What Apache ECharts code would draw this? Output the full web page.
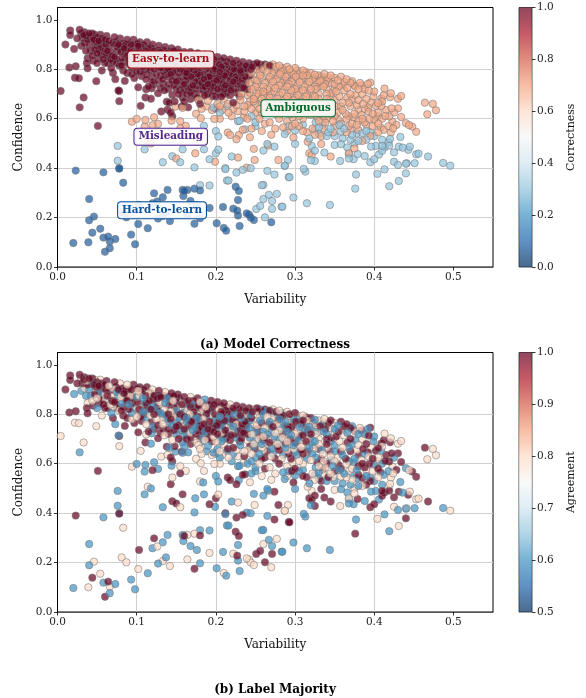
<!DOCTYPE html>
<html><head><meta charset="utf-8">
<style>html,body{margin:0;padding:0;background:#fff}#c{width:586px;height:698px}</style>
<script src="https://cdn.jsdelivr.net/npm/echarts@6/dist/echarts.min.js"></script>
</head><body><div id="c"></div>
<script>
// [variability, confidence, agreement]; each array holds one correctness level
const hardPts=[[.023,.39,1],[.058,.383,.6],[.078,.398,1],[.078,.4,.6],[.083,.341,.8],[.04,.275,.6],[.046,.204,.8],[.04,.189,.6],[.044,.139,1],[.054,.155,.8],[.02,.097,.6],[.039,.1,.8],[.058,.119,.6],[.064,.123,1],[.066,.103,.8],[.073,.113,.6],[.066,.076,.6],[.06,.062,1],[.093,.131,.6],[.098,.092,.6],[.102,.174,.8],[.114,.157,.6],[.081,.221,.8],[.087,.201,.8],[.122,.298,1],[.12,.258,.6],[.126,.265,.8],[.103,.251,1],[.133,.282,.6],[.139,.312,.6],[.137,.221,.6],[.133,.206,.8],[.127,.196,.6],[.142,.186,.8],[.158,.312,.6],[.16,.308,1],[.164,.312,.8],[.173,.317,.8],[.18,.31,1],[.159,.287,.6],[.168,.267,.6],[.176,.251,.6],[.164,.213,.8],[.18,.197,.6],[.173,.175,1],[.192,.239,.8],[.209,.243,.6],[.201,.177,.6],[.21,.158,.8],[.213,.147,.6],[.222,.236,.8],[.227,.228,1],[.228,.208,.6],[.23,.166,.6],[.228,.271,.6],[.225,.325,1],[.229,.308,1],[.239,.217,.8],[.242,.212,.8],[.244,.2,.8],[.248,.19,.8],[.27,.181,.8]];
const unclearPts=[[.076,.49,.6],[.076,.43,.6],[.11,.476,.6],[.133,.424,.6],[.145,.448,1],[.155,.424,.8],[.158,.476,1],[.173,.403,.6],[.185,.476,.6],[.185,.571,.8],[.184,.524,.6],[.192,.436,1],[.2,.46,1],[.203,.475,.8],[.203,.528,.6],[.2,.55,.6],[.212,.4,1],[.212,.396,.6],[.22,.447,.6],[.216,.35,.6],[.214,.35,.6],[.18,.331,.6],[.192,.33,.6],[.226,.382,1],[.234,.393,1],[.244,.4,.6],[.237,.557,1],[.228,.59,.6],[.23,.592,.6],[.245,.61,.6],[.25,.585,.6],[.25,.57,.6],[.197,.645,.6],[.205,.625,.6],[.214,.65,.6],[.26,.471,.6],[.265,.498,.6],[.265,.389,.6],[.258,.331,.6],[.26,.332,.6],[.267,.292,.6],[.271,.267,.6],[.26,.275,.8],[.251,.235,1],[.256,.247,1],[.262,.201,1],[.271,.235,1],[.284,.244,.6],[.298,.281,.6],[.277,.296,.8],[.274,.487,1],[.274,.374,1],[.287,.409,.8],[.291,.433,.8],[.293,.363,1],[.287,.538,.6],[.3,.498,.6],[.283,.244,.6],[.315,.258,.6],[.344,.251,.6],[.311,.397,.6],[.313,.386,.6],[.292,.364,1],[.287,.41,.8],[.357,.429,.8],[.325,.429,1],[.32,.432,.6],[.321,.49,.8],[.325,.471,1],[.337,.463,1],[.35,.494,.8],[.358,.497,.6],[.366,.484,.6],[.368,.457,.6],[.368,.439,.6],[.374,.436,.6],[.379,.457,1],[.388,.449,.6],[.395,.424,1],[.4,.436,1],[.406,.455,.6],[.396,.487,.6],[.41,.47,1],[.413,.484,1],[.419,.491,1],[.425,.464,1],[.431,.487,1],[.433,.526,.6],[.436,.483,.6],[.443,.474,1],[.445,.487,.8],[.441,.42,.8],[.44,.418,.6],[.43,.413,.6],[.425,.426,.8],[.44,.379,1],[.431,.348,.8],[.419,.327,.6],[.413,.395,.6],[.404,.377,.8],[.377,.374,.6],[.376,.317,1],[.451,.42,.6],[.453,.456,.8],[.456,.459,.8],[.468,.447,1],[.487,.421,.6],[.496,.41,.8],[.326,.585,.6],[.33,.565,.6],[.335,.575,1],[.31,.575,.6],[.318,.52,.6],[.3,.552,.6],[.292,.57,.6],[.345,.56,.8],[.35,.53,.6],[.356,.575,.6],[.362,.56,.6],[.358,.548,.8],[.372,.535,.8],[.378,.54,.6],[.385,.542,1],[.39,.55,.6],[.395,.545,.6],[.4,.53,.6],[.41,.515,.6],[.402,.49,.6],[.42,.518,.8],[.38,.51,.6],[.375,.5,.8],[.34,.53,.6],[.33,.54,.6],[.325,.555,.6],[.342,.545,1],[.36,.52,.6],[.39,.515,1],[.41,.49,1],[.418,.505,.8],[.37,.515,.6]];
const ambiguousPts=[[.094,.588,.8],[.1,.599,.6],[.111,.595,.6],[.122,.606,.6],[.11,.568,.6],[.12,.574,1],[.127,.579,.6],[.149,.649,.6],[.158,.644,.6],[.144,.592,.6],[.155,.59,.8],[.162,.571,.8],[.155,.561,1],[.145,.544,.8],[.143,.517,1],[.114,.507,.8],[.118,.5,.6],[.15,.439,1],[.174,.46,.6],[.181,.602,.8],[.18,.528,.8],[.198,.599,.8],[.205,.6,.8],[.215,.544,1],[.218,.534,1],[.229,.534,.6],[.226,.517,1],[.234,.555,1],[.243,.525,.8],[.199,.426,.6],[.228,.443,.8],[.248,.478,.6],[.249,.433,.8],[.239,.402,.6],[.266,.491,.6],[.279,.433,1],[.298,.524,1],[.478,.634,.8],[.474,.66,.8],[.467,.618,.8],[.464,.665,1],[.453,.547,1],[.448,.568,1],[.444,.574,.8],[.44,.582,.6],[.434,.607,1],[.434,.692,.8],[.43,.681,.8],[.421,.703,.8],[.413,.722,.8],[.42,.687,1],[.422,.642,1],[.43,.642,1],[.419,.609,1],[.414,.611,1],[.423,.588,.8],[.428,.575,1],[.424,.561,.8],[.421,.544,.8],[.395,.746,1],[.392,.741,.6],[.384,.735,1],[.393,.714,1],[.399,.69,.6],[.409,.682,1],[.405,.663,1],[.402,.652,1],[.392,.646,1],[.393,.629,.8],[.409,.652,.6],[.316,.507,.8],[.318,.46,1],[.321,.453,1],[.345,.447,1],[.333,.498,1],[.368,.46,.8],
[.178,.675,.8],[.183,.69,.6],[.19,.672,.6],[.175,.62,.8],[.195,.635,.8],[.202,.66,.6],[.21,.68,.8],[.208,.635,.8],[.216,.625,.8],[.222,.64,.6],[.226,.655,.8],[.231,.675,.6],[.236,.63,1],[.24,.655,.8],[.245,.64,.8],[.25,.66,1],[.22,.61,.6],[.235,.605,.8],[.24,.6,.6],[.255,.6,.8],[.262,.625,1],[.268,.585,.8],[.28,.6,1],[.272,.64,.6],[.283,.62,.8],[.29,.59,.8],[.297,.605,.8],[.285,.565,.6],[.275,.56,.8],[.31,.6,.8],[.305,.57,.6],[.315,.545,1],[.322,.56,.8],[.33,.59,.8],[.34,.6,1],[.35,.61,.8],[.355,.595,1],[.365,.6,.8],[.372,.58,.8],[.368,.61,.6],[.38,.59,1],[.385,.6,1],[.39,.575,.8],[.4,.595,.6],[.405,.58,1],[.41,.6,.6],[.375,.62,.6],[.38,.635,1],[.37,.65,1],[.36,.635,.6],[.35,.65,.6],[.345,.63,.8],[.36,.665,.8],[.372,.68,.6],[.38,.675,.8],[.37,.7,1],[.362,.715,.8],[.352,.71,1],[.345,.69,.6],[.34,.665,.8],[.335,.64,.8],[.33,.66,1],[.325,.69,.6],[.318,.665,.6],[.312,.635,.8],[.32,.72,1],[.33,.73,.8],[.34,.72,.6],[.35,.74,.6],[.36,.735,.8],[.37,.745,1],[.38,.72,.6],[.385,.7,.8],[.39,.68,1],[.365,.76,1],[.372,.752,.6],[.358,.77,1],[.35,.765,.8],[.34,.755,.8],[.337,.781,.8],[.33,.775,.8],[.32,.785,1],[.31,.795,.8],[.3,.805,1],[.29,.81,.8],[.28,.815,.8],[.272,.82,.8],[.265,.815,.6],[.258,.81,1],[.25,.8,.8],[.245,.785,1],[.24,.77,.6],[.255,.785,.8],[.265,.79,.8],[.275,.8,.6],[.285,.795,1],[.295,.79,.8],[.305,.78,.6],[.315,.775,.8],[.325,.765,1],[.335,.76,.6],[.345,.775,1],[.247,.76,.8],[.258,.765,1],[.268,.77,.6],[.278,.775,1],[.288,.77,.6],[.298,.765,.8],[.308,.76,1],[.318,.75,.6],[.328,.745,.8],[.338,.74,1],[.242,.745,.6],[.252,.74,1],[.262,.745,.8],[.272,.75,1],[.282,.745,.6],[.292,.74,1],[.302,.735,.8],[.312,.73,.6],[.245,.72,.8],[.255,.715,1],[.265,.72,.6],[.275,.725,.8],[.285,.72,1],[.295,.715,.6],[.305,.71,1],[.315,.7,.8],[.232,.7,1],[.24,.695,.8],[.25,.69,.6],[.26,.695,1],[.27,.7,.8],[.28,.695,.6],[.29,.69,.8],[.3,.685,1],[.31,.68,.8],[.322,.675,.6],[.248,.67,.6],[.258,.665,.8],[.268,.672,.8],[.278,.668,1],[.288,.665,.6],[.298,.66,.8],[.308,.655,1],[.255,.64,.6],[.265,.65,1],[.292,.64,1],[.302,.635,.6],[.275,.62,1],[.322,.64,.6],[.333,.62,1],[.298,.78,.6],[.282,.79,1],[.27,.805,1],[.26,.8,.6],[.31,.775,1],[.35,.72,.8],[.34,.7,1],[.33,.7,.8],[.325,.73,.6],[.26,.73,.6],[.29,.755,1],[.252,.755,.8],
[.276,.81,1],[.284,.805,.6],[.293,.8,1],[.303,.795,.8],[.314,.788,1],[.325,.778,.6],[.334,.77,.8],[.342,.765,1],[.354,.755,.6],[.362,.75,1],[.271,.785,.8],[.281,.78,.6],[.291,.778,.8],[.301,.77,1],[.312,.765,.6],[.322,.76,.8],[.332,.752,1],[.344,.745,.8],[.355,.73,1],[.366,.725,.6],[.376,.73,.8],[.388,.72,.6],[.256,.775,.6],[.267,.76,1],[.277,.76,.8],[.287,.755,.6],[.296,.75,1],[.306,.748,.6],[.316,.738,1],[.326,.72,.8],[.336,.73,.6],[.346,.705,1],[.356,.69,.8],[.366,.685,1],[.376,.695,.6],[.386,.66,1],[.396,.665,.8],[.25,.73,.6],[.26,.71,.8],[.27,.735,.6],[.28,.735,.8],[.29,.73,.6],[.3,.72,.8],[.31,.715,1],[.32,.705,.6],[.33,.68,.8],[.34,.68,1],[.35,.675,.6],[.358,.65,1],[.368,.665,.6],[.378,.655,.8],[.388,.64,.6],[.398,.62,1],[.243,.705,.6],[.254,.7,.8],[.264,.705,1],[.274,.71,.6],[.284,.705,.8],[.294,.7,1],[.304,.695,.6],[.314,.69,1],[.324,.66,.8],[.334,.655,.6],[.344,.65,1],[.354,.625,.8],[.364,.62,1],[.374,.605,.6],[.384,.615,.8],[.394,.6,1],[.404,.61,.8],[.248,.68,.8],[.258,.68,.6],[.268,.685,1],[.278,.68,.8],[.288,.68,1],[.298,.675,.6],[.308,.668,.8],[.316,.65,1],[.326,.625,.6],[.336,.61,.8],[.346,.615,.6],[.26,.655,.8],[.27,.66,.6],[.28,.655,1],[.29,.655,.8],[.3,.648,.6],[.31,.64,1],[.32,.615,.8],[.328,.605,1],[.338,.585,.8],[.348,.59,.6],[.358,.58,1],[.368,.57,.8],[.378,.575,.6],[.388,.585,1],[.398,.57,.8],[.408,.565,1],[.418,.57,.6],[.27,.63,.8],[.285,.635,.6],[.295,.62,1],[.305,.61,.8],[.315,.62,.6],[.258,.62,1],[.25,.625,.6],[.243,.67,1],[.236,.65,.8],[.228,.63,.8],[.215,.66,1],[.205,.65,.8],[.188,.65,.6],[.182,.64,.8],[.3,.58,1],[.29,.55,.8],[.31,.55,1],[.335,.56,.8],[.35,.57,1],[.365,.545,.8],[.38,.555,1],[.395,.53,1],[.405,.545,.8],[.412,.555,.6],[.385,.51,.8],[.375,.48,.8],[.37,.555,.6],[.348,.545,.8],[.333,.53,1],[.325,.535,.8],[.296,.57,1],[.27,.535,.8],[.258,.55,.8],[.245,.56,.6],[.262,.58,1],[.405,.625,.8],[.415,.635,1],[.425,.625,.6],[.41,.67,.8],[.4,.71,.6],[.412,.695,1],[.382,.745,.8],[.375,.735,1]];
const easyPts=[[.004,.712,.8],[.01,.9,1],[.016,.957,1],[.016,.939,1],[.015,.807,1],[.023,.812,1],[.021,.882,.6],[.022,.766,.8],[.027,.764,.8],[.033,.686,.8],[.028,.646,.6],[.049,.752,.8],[.051,.571,1],[.038,.804,1],[.056,.795,.8],[.073,.76,.6],[.078,.712,1],[.077,.714,.6],[.078,.671,.8],[.085,.753,1],[.068,.804,.6],[.105,.652,.8],[.102,.727,1],[.106,.773,1],[.112,.719,.8],[.119,.723,.6],[.111,.686,1],[.118,.681,.6],[.135,.715,.8],[.127,.703,1],[.138,.669,1],[.141,.665,.6],[.131,.629,.8],[.143,.625,1],[.145,.609,1],[.139,.636,.8],[.145,.696,.8],[.158,.686,.6],[.165,.646,.6],[.157,.649,1],[.163,.7,1],[.176,.685,.8],[.18,.66,.8],[.19,.7,1],[.2,.69,.8],[.2,.64,.6],[.21,.7,.6],[.222,.665,1],[.23,.69,1],[.24,.72,1],
[.028,.96,1],[.03,.945,.8],[.034,.95,1],[.025,.925,1],[.032,.925,1],[.036,.935,.8],[.03,.895,.6],[.038,.92,1],[.04,.945,1],[.042,.93,.8],[.044,.945,1],[.046,.92,1],[.04,.9,.6],[.036,.875,.6],[.038,.845,.8],[.042,.875,.6],[.044,.855,.8],[.037,.825,1],[.045,.835,1],[.05,.825,.6],[.048,.9,.8],[.05,.93,1],[.052,.915,1],[.054,.94,.8],[.056,.925,1],[.058,.905,.8],[.053,.885,.6],[.05,.865,.8],[.056,.86,1],[.06,.88,.8],[.058,.84,1],[.064,.825,1],[.062,.935,1],[.065,.915,.8],[.066,.895,1],[.068,.87,.8],[.064,.855,.6],[.07,.83,.8],[.072,.93,1],[.074,.91,1],[.075,.89,.6],[.072,.85,1],[.078,.815,.8],[.08,.87,.8],[.079,.925,.8],[.082,.905,1],[.084,.885,1],[.086,.86,1],[.083,.83,1],[.088,.92,.8],[.09,.9,1],[.092,.875,.8],[.09,.84,.6],[.088,.785,1],[.094,.805,.6],[.096,.92,1],[.098,.895,.8],[.1,.87,.6],[.097,.845,.8],[.1,.82,.8],[.1,.79,.8],[.104,.91,1],[.106,.89,1],[.108,.865,.6],[.105,.84,.8],[.108,.81,.6],[.113,.91,1],[.115,.885,.8],[.116,.855,1],[.114,.83,1],[.117,.795,.8],[.112,.76,.8],[.12,.9,.8],[.122,.875,1],[.124,.85,.6],[.123,.82,.6],[.125,.78,.8],[.122,.74,1],[.128,.895,1],[.13,.87,1],[.132,.84,.8],[.13,.805,.6],[.133,.76,.8],[.136,.89,.8],[.138,.865,.6],[.14,.835,1],[.138,.8,.6],[.14,.77,.6],[.141,.74,1],[.144,.885,1],[.146,.855,.8],[.148,.825,1],[.146,.79,.8],[.15,.75,1],[.15,.72,.6],[.152,.88,1],[.154,.855,.6],[.156,.83,.8],[.155,.8,1],[.158,.77,.8],[.157,.735,.6],[.16,.87,1],[.162,.845,1],[.164,.815,.8],[.163,.785,.6],[.166,.755,1],[.168,.725,.8],[.168,.87,.8],[.17,.84,.6],[.172,.81,1],[.171,.78,1],[.174,.75,.6],[.175,.72,1],[.177,.865,1],[.178,.835,1],[.18,.805,.8],[.18,.775,1],[.182,.745,1],[.184,.715,.6],[.186,.86,.6],[.187,.83,.8],[.188,.8,1],[.19,.77,.8],[.19,.74,1],[.194,.855,1],[.195,.825,1],[.196,.795,.8],[.198,.765,.6],[.197,.73,1],[.202,.85,1],[.204,.82,.8],[.205,.79,.6],[.206,.76,1],[.207,.725,.8],[.21,.845,1],[.212,.815,1],[.213,.785,.6],[.214,.755,.8],[.216,.725,.6],[.218,.84,.8],[.22,.81,1],[.22,.78,1],[.222,.75,.6],[.224,.72,1],[.226,.835,1],[.228,.805,.6],[.229,.775,.8],[.23,.745,1],[.234,.83,1],[.236,.8,.8],[.237,.77,1],[.238,.74,.6],[.242,.825,1],[.244,.8,.6],[.248,.82,.8],[.252,.825,1],[.256,.82,.6],[.262,.82,1],[.268,.815,1],
[.034,.905,.8],[.047,.94,.8],[.06,.92,1],[.076,.875,.6],[.086,.9,1],[.102,.895,.8],[.11,.845,.6],[.119,.835,.6],[.127,.875,.6],[.135,.82,.8],[.143,.81,.8],[.151,.845,1],[.159,.805,.6],[.167,.8,.8],[.175,.83,1],[.183,.82,.8],[.191,.785,.6],[.2,.81,.8],[.208,.8,1],[.217,.77,.6],[.225,.79,.8],[.233,.76,1],[.241,.79,.6],[.131,.775,.8],[.145,.755,.6],[.161,.755,.8],[.177,.78,.6],[.193,.75,.8],[.209,.77,.6],[.226,.76,.8],[.155,.715,.8],[.172,.7,.8],[.186,.73,.6],[.203,.745,.6],[.219,.735,.8],[.235,.725,1],[.213,.705,1],[.197,.71,.8],[.18,.7,1],[.165,.725,.6],
[.033,.94,1],[.039,.93,1],[.045,.925,.6],[.049,.91,1],[.055,.9,1],[.061,.9,1],[.063,.875,1],[.07,.905,.8],[.077,.9,1],[.081,.89,.6],[.087,.875,1],[.093,.9,1],[.095,.87,1],[.101,.905,1],[.103,.875,.8],[.109,.9,1],[.111,.875,1],[.118,.885,1],[.121,.86,1],[.126,.865,1],[.134,.875,1],[.141,.87,1],[.147,.875,1],[.153,.865,1],[.158,.85,.8],[.165,.855,1],[.172,.855,1],[.18,.85,.8],[.184,.845,1],[.191,.84,1],[.198,.84,1],[.206,.835,1],[.214,.83,1],[.222,.825,1],[.23,.82,1],[.238,.815,1],[.246,.81,1],[.254,.81,1],[.047,.88,1],[.054,.875,1],[.061,.86,.8],[.069,.855,1],[.074,.84,1],[.081,.845,.6],[.088,.855,1],[.094,.845,1],[.101,.85,1],[.107,.83,1],[.112,.845,1],[.118,.82,1],[.126,.83,1],[.129,.85,.8],[.136,.845,.6],[.142,.85,1],[.15,.815,.6],[.157,.84,1],[.161,.825,.6],[.168,.83,1],[.174,.82,.8],[.181,.825,1],[.189,.815,1],[.193,.815,.6],[.199,.8,1],[.207,.81,1],[.215,.805,1],[.223,.8,.6],[.231,.795,1],[.239,.805,1],[.243,.775,.6],[.052,.845,1],[.06,.825,1],[.067,.84,.8],[.075,.825,1],[.081,.815,1],[.09,.82,1],[.096,.825,.6],[.103,.82,1],[.11,.8,1],[.115,.81,.6],[.122,.8,1],[.128,.81,1],[.134,.795,.6],[.14,.8,1],[.148,.8,1],[.153,.785,.6],[.16,.79,1],[.166,.785,1],[.173,.795,.6],[.178,.79,1],[.184,.78,.8],[.192,.77,1],[.2,.78,.6],[.204,.77,1],[.211,.775,1],[.218,.79,.6],[.225,.77,1],[.232,.785,.6],[.238,.755,1],[.105,.79,1],[.112,.78,.6],[.119,.77,1],[.127,.755,1],[.134,.74,1],[.137,.78,.6],[.143,.78,1],[.149,.77,.6],[.153,.755,1],[.16,.74,1],[.163,.77,.6],[.169,.77,1],[.175,.765,.6],[.179,.755,1],[.185,.76,1],[.189,.755,.6],[.196,.745,1],[.201,.755,1],[.208,.745,.6],[.212,.735,1],[.219,.755,1],[.227,.74,.6],[.232,.725,1],[.14,.72,1],[.147,.735,1],[.153,.7,1],[.16,.715,.6],[.168,.705,1],[.171,.735,.6],[.177,.735,1],[.183,.73,1],[.189,.72,.6],[.193,.725,1],[.202,.72,1],[.205,.705,.6],[.211,.72,1],[.219,.715,1],[.226,.705,.6],[.148,.67,1],[.16,.67,.6],[.168,.68,1],[.186,.695,.8],[.195,.69,1],[.207,.69,.6],[.218,.695,1],[.13,.725,1],[.12,.75,.6],[.115,.73,1],[.097,.765,1],[.094,.78,.8],[.083,.795,1],[.07,.785,1]];
const xTicks=[0,.1,.2,.3,.4,.5];
const yTicks=[0,.2,.4,.6,.8,1];
const corrTicks=[0,.2,.4,.6,.8,1];
const agreeTicks=[.5,.6,.7,.8,.9,1];
const panelTitles=['(a) Model Correctness','(b) Label Majority'];
const barNames=['Correctness','Agreement'];
const regionLabels=[
 {name:'Easy-to-learn',value:[.143,.84],color:'#a50f15'},
 {name:'Ambiguous',value:[.304,.642],color:'#006d2c'},
 {name:'Misleading',value:[.143,.527],color:'#54278f'},
 {name:'Hard-to-learn',value:[.132,.23],color:'#08519c'}];
const rdbu=['#053061','#2166ac','#4393c3','#92c5de','#d1e5f0','#f7f7f7','#fddbc7','#f4a582','#d6604d','#b2182b','#67001f'];

const levels=[[hardPts,.08],[unclearPts,.3],[ambiguousPts,.7],[easyPts,1]];
let all=[];
levels.forEach(([arr,c])=>arr.forEach(p=>all.push([p[0],p[1],c,p[2]])));
// draw order only: mix the groups the way unsorted rows overlap
const ordered=all.map((p,i)=>[(i*37)%101,p]).sort((a,b)=>a[0]-b[0]).map(e=>e[1]);

const FONT='"DejaVu Serif"';
const L=57.5,W=435.5,H=259.5,T=[7.5,352.5],CL=519,CW=13;
const grids=[],xA=[],yA=[],series=[],vms=[];
function axisCommon(){return{
 axisLine:{show:true,onZero:false,lineStyle:{color:'#000',width:1}},
 axisTick:{show:true,length:3.5,lineStyle:{color:'#000',width:.8}},
 splitLine:{show:true,showMinLine:true,showMaxLine:false,lineStyle:{color:'#d0d0d0',width:1.1}},
 axisLabel:{show:true,fontFamily:FONT,fontSize:10.5,color:'#222',margin:5},
 nameTextStyle:{fontFamily:FONT,fontSize:12,color:'#111'}
};}
[0,1].forEach(k=>{
 grids.push({left:L,top:T[k],width:W,height:H,show:true,borderColor:'#000',borderWidth:1,backgroundColor:'#fff'});
 const xc=axisCommon();
 xc.axisLine.lineStyle.color='#555';
 xA.push(Object.assign(xc,{type:'value',gridIndex:k*2,min:0,max:.55,interval:.1,name:'Variability',nameLocation:'middle',nameGap:27,
  axisLabel:Object.assign(xc.axisLabel,{customValues:xTicks,formatter:v=>v.toFixed(1)}),
  axisTick:Object.assign(xc.axisTick,{customValues:xTicks})}));
 const yc=axisCommon();
 yA.push(Object.assign(yc,{type:'value',gridIndex:k*2,min:0,max:1.05,interval:.2,name:'Confidence',nameLocation:'middle',nameGap:33,
  axisLabel:Object.assign(yc.axisLabel,{customValues:yTicks,formatter:v=>v.toFixed(1)}),
  axisTick:Object.assign(yc.axisTick,{customValues:yTicks})}));
 grids.push({left:CL,top:T[k],width:CW,height:H,show:true,borderColor:'#222',borderWidth:.8,backgroundColor:'#fff'});
 xA.push({type:'category',gridIndex:k*2+1,data:[''],show:false});
 const cTicks=k?agreeTicks:corrTicks;
 yA.push({type:'value',gridIndex:k*2+1,position:'right',min:cTicks[0],max:1,interval:k?.1:.2,name:barNames[k],nameLocation:'middle',nameGap:34,nameRotate:90,
  nameTextStyle:{fontFamily:FONT,fontSize:11,color:'#111'},
  axisLine:{show:false},axisTick:{show:true,length:3.5,lineStyle:{color:'#000',width:.8}},splitLine:{show:false},
  axisLabel:{fontFamily:FONT,fontSize:10.5,color:'#222',margin:5,formatter:v=>v.toFixed(1)}});
});
[0,1].forEach(k=>{
 const idx=series.length;
 series.push({type:'scatter',xAxisIndex:k*2,yAxisIndex:k*2,data:ordered,symbolSize:7.4,
  encode:{x:0,y:1},large:false,
  itemStyle:{opacity:.7,borderColor:'#777',borderWidth:.8},silent:true,z:3});
 vms.push({type:'continuous',show:false,seriesIndex:idx,dimension:k?3:2,min:k?.5:0,max:1,inRange:{color:rdbu}});
});
[0,1].forEach(k=>{
 series.push({type:'bar',xAxisIndex:k*2+1,yAxisIndex:k*2+1,data:[1],barWidth:'100%',silent:true,
  itemStyle:{opacity:.72,color:new echarts.graphic.LinearGradient(0,1,0,0,rdbu.map((c,i)=>({offset:i/10,color:c})))}});
});
series.push({type:'scatter',xAxisIndex:0,yAxisIndex:0,symbolSize:0,silent:true,z:10,itemStyle:{opacity:1},
 data:regionLabels.map(r=>({name:r.name,value:r.value,
  label:{show:true,position:'inside',formatter:r.name,fontFamily:FONT,fontWeight:'bold',fontSize:10.4,color:r.color,
   backgroundColor:'rgba(255,255,255,.88)',borderColor:r.color,borderWidth:1,borderRadius:3,padding:[3,4,3,4]}}))});
const titles=panelTitles.map((t,k)=>({text:t,left:270,top:k?679:334,textAlign:'center',
 textStyle:{fontFamily:FONT,fontSize:12,fontWeight:'bold',color:'#000'}}));
const chart=echarts.init(document.getElementById('c'),null,{renderer:'canvas'});
chart.setOption({animation:false,backgroundColor:'#fff',title:titles,grid:grids,xAxis:xA,yAxis:yA,visualMap:vms,series});
</script></body></html>
